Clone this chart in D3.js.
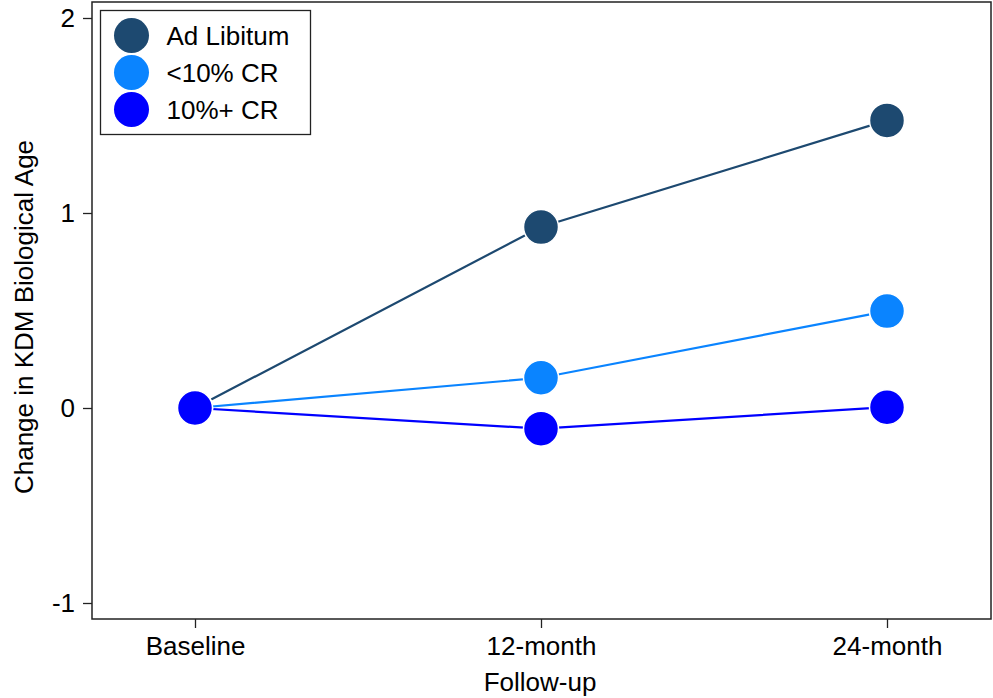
<!DOCTYPE html>
<html>
<head>
<meta charset="utf-8">
<script src="https://cdn.jsdelivr.net/npm/d3@7"></script>
<style>
  body { margin: 0; background: #fff; }
  svg { font-family: "Liberation Sans", Arial, Helvetica, sans-serif; }
</style>
</head>
<body>
<div id="chart"></div>
<script>
const timepoints = ["Baseline", "12-month", "24-month"];
const seriesNames = ["Ad Libitum", "<10% CR", "10%+ CR"];
const seriesColors = ["#1d4970", "#0a84ff", "#0000ff"];
const adLibitum = [0, 0.928, 1.475];
const crUnder10 = [0, 0.155, 0.497];
const cr10Plus = [0, -0.106, 0.004];
const yTicks = [-1, 0, 1, 2];

const seriesValues = [adLibitum, crUnder10, cr10Plus];

const W = 993, H = 698;
const margin = {top: 2, right: 2, bottom: 79, left: 92};
const width = W - margin.left - margin.right,
      height = H - margin.top - margin.bottom;
const fontSize = 26;

const svg = d3.select("#chart")
  .append("svg")
  .attr("width", W)
  .attr("height", H);

const g = svg.append("g")
  .attr("transform", `translate(${margin.left},${margin.top})`);

// y: 0 at 408, 1 unit = 195px
const y = d3.scaleLinear().domain([-1, 2]).range([601, 16]);
const x = d3.scalePoint().domain(timepoints).range([103, 795]);

// frame
g.append("rect")
  .attr("x", 0).attr("y", 0)
  .attr("width", width).attr("height", height)
  .attr("fill", "none")
  .attr("stroke", "#222")
  .attr("stroke-width", 1.5);

const yAxis = g.append("g")
  .call(d3.axisLeft(y).tickValues(yTicks).tickSize(9).tickPadding(8).tickFormat(d3.format("d")));
yAxis.select(".domain").remove();
yAxis.selectAll("line").attr("stroke", "#222").attr("stroke-width", 1.3);
yAxis.selectAll("text").attr("font-size", fontSize).attr("fill", "#000")
  .attr("font-family", "Liberation Sans, Arial, sans-serif")
  .text(d => d < 0 ? "-" + Math.abs(d) : d);

const xAxis = g.append("g")
  .attr("transform", `translate(0,${height})`)
  .call(d3.axisBottom(x).tickSize(9).tickPadding(9));
xAxis.select(".domain").remove();
xAxis.selectAll("line").attr("stroke", "#222").attr("stroke-width", 1.3);
xAxis.selectAll("text").attr("font-size", fontSize).attr("fill", "#000")
  .attr("font-family", "Liberation Sans, Arial, sans-serif");

// axis titles
svg.append("text")
  .attr("x", 540)
  .attr("y", 691)
  .attr("text-anchor", "middle")
  .attr("font-size", fontSize)
  .text("Follow-up");

svg.append("text")
  .attr("transform", `translate(33,${317}) rotate(-90)`)
  .attr("text-anchor", "middle")
  .attr("font-size", fontSize)
  .text("Change in KDM Biological Age");

const line = d3.line()
  .x((d, i) => x(timepoints[i]))
  .y(d => y(d));

seriesValues.forEach((vals, s) => {
  g.append("path")
    .datum(vals)
    .attr("d", line)
    .attr("fill", "none")
    .attr("stroke", seriesColors[s])
    .attr("stroke-width", 2.2);
});

seriesValues.forEach((vals, s) => {
  g.selectAll(null)
    .data(vals)
    .enter()
    .append("circle")
    .attr("cx", (d, i) => x(timepoints[i]))
    .attr("cy", d => y(d))
    .attr("r", 17.5)
    .attr("fill", seriesColors[s])
    .attr("stroke", "#fff")
    .attr("stroke-width", 1.5);
});

// legend
const legend = svg.append("g").attr("transform", "translate(100.5,10.5)");
legend.append("rect")
  .attr("width", 210)
  .attr("height", 124)
  .attr("fill", "#fff")
  .attr("stroke", "#222")
  .attr("stroke-width", 1.3);

seriesNames.forEach((name, i) => {
  legend.append("circle")
    .attr("cx", 31)
    .attr("cy", 25 + i * 37)
    .attr("r", 17.5)
    .attr("fill", seriesColors[i]);
  legend.append("text")
    .attr("x", 66)
    .attr("y", 25 + i * 37)
    .attr("dy", "0.35em")
    .attr("font-size", fontSize)
    .text(name);
});
</script>
</body>
</html>
